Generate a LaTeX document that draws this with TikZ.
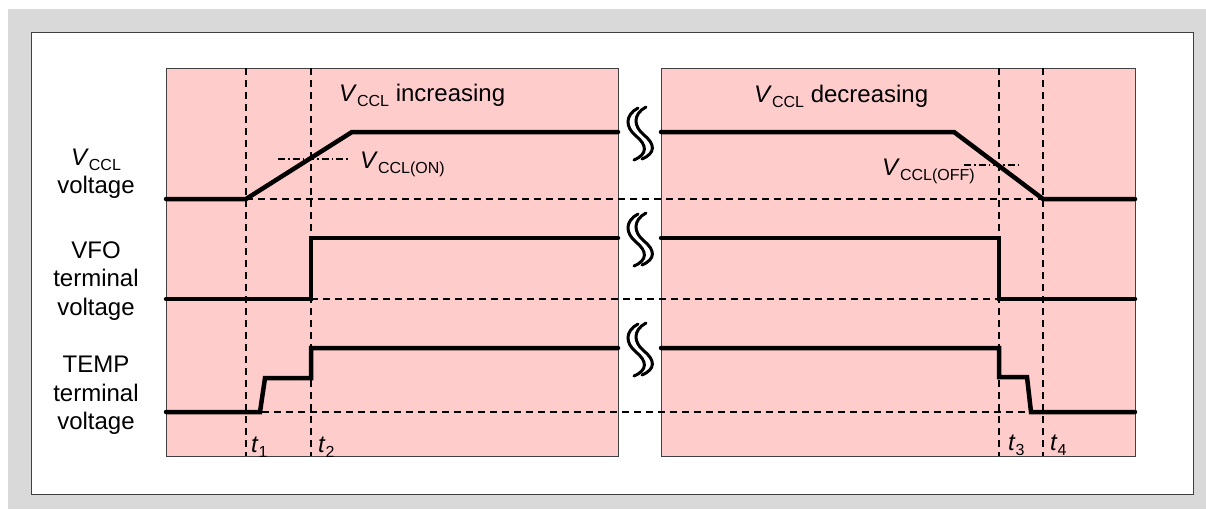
\documentclass[tikz,border=0pt]{standalone}
\usepackage{fontspec}
\setmainfont{Liberation Sans}
\definecolor{bggray}{HTML}{D9D9D9}
\definecolor{pinkfill}{HTML}{FFCCCC}
\definecolor{edgegray}{HTML}{404040}
\newcommand{\Vsub}[1]{\textit{V}\raisebox{-5pt}{\fontsize{16}{16}\selectfont #1}}
\newcommand{\tsub}[1]{\textit{t}\raisebox{-5pt}{\fontsize{16}{16}\selectfont #1}}
\tikzset{
  panel/.style={draw=edgegray, fill=pinkfill, line width=1pt},
  guide/.style={line width=1.3pt, dash pattern=on 7pt off 5pt},
  dashdot/.style={line width=1.3pt, dash pattern=on 7pt off 3pt on 1.5pt off 3pt},
  signal/.style={line width=4.5pt, line cap=round, line join=miter},
  lbl/.style={font=\fontsize{24}{28}\selectfont, inner sep=0pt, anchor=base},
  lblw/.style={font=\fontsize{24}{28}\selectfont, inner sep=0pt, anchor=base west},
  brkline/.style={line width=3pt, line cap=round},
  brk/.pic={
    \draw[brkline] (-2,-25) .. controls (-15,-18) and (-15,-6) .. (-4,3) .. controls (7,12) and (8,21) .. (-6,27);
    \draw[brkline] (6,-26) .. controls (-7,-19) and (-7,-7) .. (4,2) .. controls (15,11) and (16,20) .. (2,26);
  }
}
\begin{document}
\begin{tikzpicture}[x=1pt,y=-1pt]
\useasboundingbox (0,0) rectangle (1206,509);
\fill[bggray] (8,9) rectangle (1206,509);
\draw[edgegray, fill=white, line width=1pt] (31,32) rectangle (1193,494);
% panels
\draw[panel] (166,68) coordinate (pLtl) rectangle (618,456) coordinate (pLbr);
\draw[panel] (661,68) coordinate (pRtl) rectangle (1135,456) coordinate (pRbr);
% time marks
\coordinate (t1a) at (246,68);  \coordinate (t1b) at (246,456);
\coordinate (t2a) at (311,68);  \coordinate (t2b) at (311,456);
\coordinate (t3a) at (999,68);  \coordinate (t3b) at (999,456);
\coordinate (t4a) at (1043,68); \coordinate (t4b) at (1043,456);
\draw[guide] (t1a) -- (t1b);
\draw[guide] (t2a) -- (t2b);
\draw[guide] (t3a) -- (t3b);
\draw[guide] (t4a) -- (t4b);
% baselines
\coordinate (vclA) at (246,199); \coordinate (vclB) at (1043,199);
\coordinate (vfoA) at (311,299); \coordinate (vfoB) at (999,299);
\coordinate (tmpA) at (262,412); \coordinate (tmpB) at (1030,412);
\draw[guide] (vclA) -- (vclB);
\draw[guide] (vfoA) -- (vfoB);
\draw[guide] (tmpA) -- (tmpB);
% thresholds
\coordinate (onA) at (278,159); \coordinate (onB) at (350,159);
\coordinate (offA) at (964,165); \coordinate (offB) at (1022,165);
\draw[dashdot] (onA) -- (onB);
\draw[dashdot] (offA) -- (offB);
% signals
\draw[signal] (166,199) -- (vclA) -- (352,132) -- (618,132);
\draw[signal] (661,132) -- (954,132) -- (vclB) -- (1135,199);
\draw[signal] (166,299) -- (vfoA) -- (311,238) -- (618,238);
\draw[signal] (661,238) -- (999,238) -- (vfoB) -- (1135,299);
\draw[signal] (166,412) -- (260,412) -- (265,378) -- (311,378) -- (311,348) -- (618,348);
\draw[signal] (661,348) -- (999,348) -- (999,377) -- (1027,377) -- (1031,412) -- (1135,412);
% break symbols
\pic at (640,133) {brk};
\pic at (640,239) {brk};
\pic at (640,349) {brk};
% left labels
\node[lbl] (l1a) at (96,165) {\Vsub{CCL}};
\node[lbl] (l1b) at (96,193.5) {voltage};
\node[lbl] (l2a) at (96,258) {VFO};
\node[lbl] (l2b) at (96,286.5) {terminal};
\node[lbl] (l2c) at (96,315) {voltage};
\node[lbl] (l3a) at (96,372.5) {TEMP};
\node[lbl] (l3b) at (96,401) {terminal};
\node[lbl] (l3c) at (96,429.5) {voltage};
% titles
\node[lblw] (ti1) at (339,101.5) {\Vsub{CCL} increasing};
\node[lblw] (ti2) at (754,102) {\Vsub{CCL} decreasing};
\node[lblw] (von) at (360,168) {\Vsub{CCL(ON)}};
\node[lblw] (voff) at (882,175) {\Vsub{CCL(OFF)}};
% time labels
\node[lblw] (tl1) at (251,452) {\tsub{1}};
\node[lblw] (tl2) at (318,452) {\tsub{2}};
\node[lblw] (tl3) at (1008,450) {\tsub{3}};
\node[lblw] (tl4) at (1050,450) {\tsub{4}};
\end{tikzpicture}
\end{document}
